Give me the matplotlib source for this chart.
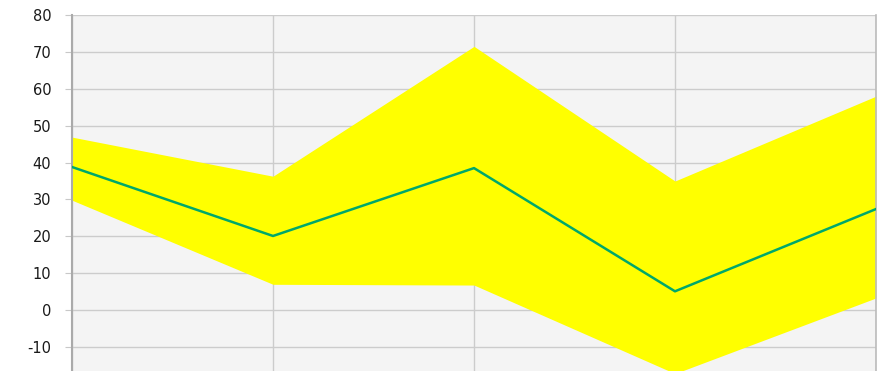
import matplotlib
matplotlib.use("Agg")
import matplotlib.pyplot as plt

# values
categories = [0, 1, 2, 3, 4]
upper = [46.9, 36.3, 71.5, 35.0, 58.0]
middle = [38.8, 20.1, 38.5, 5.1, 27.4]
lower = [29.8, 7.0, 6.8, -17.2, 3.3]
yticks = [-10, 0, 10, 20, 30, 40, 50, 60, 70, 80]
ylabels = ['-10', '0', '10', '20', '30', '40', '50', '60', '70', '80']

fig = plt.figure(figsize=(8.84, 3.71), dpi=100)
ax = fig.add_axes([72 / 884, 0, (876 - 72) / 884, 1 - 15 / 371])
ax.set_facecolor('#f4f4f4')

ax.fill_between(categories, lower, upper, color='#ffff00', zorder=2, linewidth=0)
ax.plot(categories, middle, color='#00a86b', lw=1.8, zorder=3)

ax.set_xlim(0, 4)
ax.set_ylim(-16.5, 80)
ax.set_yticks(yticks)
ax.set_yticklabels(ylabels)
ax.set_xticks(categories)
ax.set_xticklabels([])
ax.tick_params(axis='x', length=0)
ax.tick_params(axis='y', length=5, color='#c8c8c8', labelsize=10.5, pad=10, labelcolor='#1a1a1a')
ax.grid(True, color='#cccccc', lw=1, zorder=1)
ax.set_axisbelow(True)

for s in ['top', 'bottom']:
    ax.spines[s].set_visible(False)
ax.spines['left'].set_color('#aaaaaa')
ax.spines['left'].set_linewidth(1.5)
ax.spines['right'].set_color('#bbbbbb')
ax.spines['right'].set_linewidth(1.2)

fig.savefig('out.png', dpi=100)
